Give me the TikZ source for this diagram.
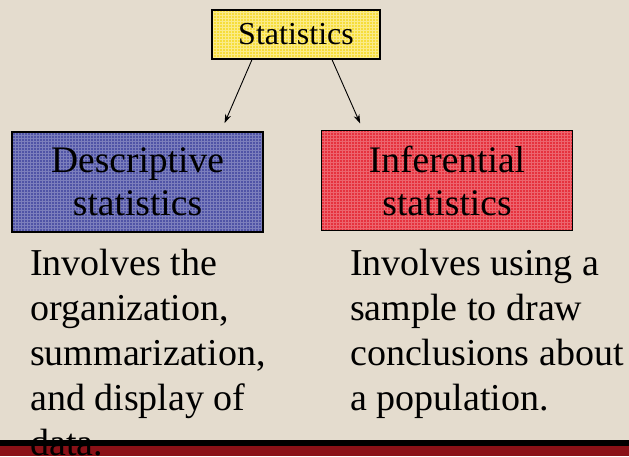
\documentclass[tikz,border=0pt]{standalone}
\usepackage{fontspec}
\setmainfont{Liberation Serif}
\usetikzlibrary{arrows.meta,patterns}
\definecolor{paper}{HTML}{E4DCCE}
\definecolor{topbox}{HTML}{F6DD3A}
\definecolor{descbox}{HTML}{5054A6}
\definecolor{infbox}{HTML}{E6323E}
\definecolor{footred}{HTML}{8A1117}
\tikzset{
  box/.style={draw=black, line width=1.2pt, inner sep=0pt, align=center},
  catbox/.style={box, minimum width=251pt, minimum height=100pt,
    font=\fontsize{37.5}{43}\selectfont},
  body/.style={anchor=base west, align=left, inner sep=0pt,
    font=\fontsize{38}{45}\selectfont},
  link/.style={-{Stealth[length=9pt,width=6pt]}, line width=0.9pt},
}
\begin{document}
\begin{tikzpicture}[x=1pt,y=-1pt]
  % page and footer band
  \fill[paper] (0,0) rectangle (629,456);
  \useasboundingbox (0,0) rectangle (629,456);
  \fill[footred] (0,446) rectangle (629,456);
  \fill[black] (0,440) rectangle (629,446);

  % boxes
  \node[box, minimum width=168pt, minimum height=49pt,
        font=\fontsize{32}{36}\selectfont,
        preaction={fill=topbox}, pattern=grid, pattern color=white!40!topbox]
        (stat) at (296,34.5) {Statistics};
  \node[catbox, preaction={fill=descbox}, pattern=grid,
        pattern color=white!25!descbox]
        (desc) at (137.5,182) {Descriptive\\statistics};
  \node[catbox, preaction={fill=infbox}, pattern=grid,
        pattern color=white!25!infbox]
        (inf) at (447,180.5) {Inferential\\statistics};

  % connectors
  \draw[link, shorten >=9pt] ([xshift=-44pt]stat.south) -- ([xshift=83.5pt]desc.north);
  \draw[link, shorten >=7pt] ([xshift=36pt]stat.south) -- ([xshift=-84pt]inf.north);

  % descriptions (base anchor sits on the last line)
  \node[body] (desctext) at (30,455)
    {Involves the\\organization,\\summarization,\\and display of\\data.};
  \node[body] (inftext) at (350,410)
    {Involves using a\\sample to draw\\conclusions about\\a population.};
\end{tikzpicture}
\end{document}
